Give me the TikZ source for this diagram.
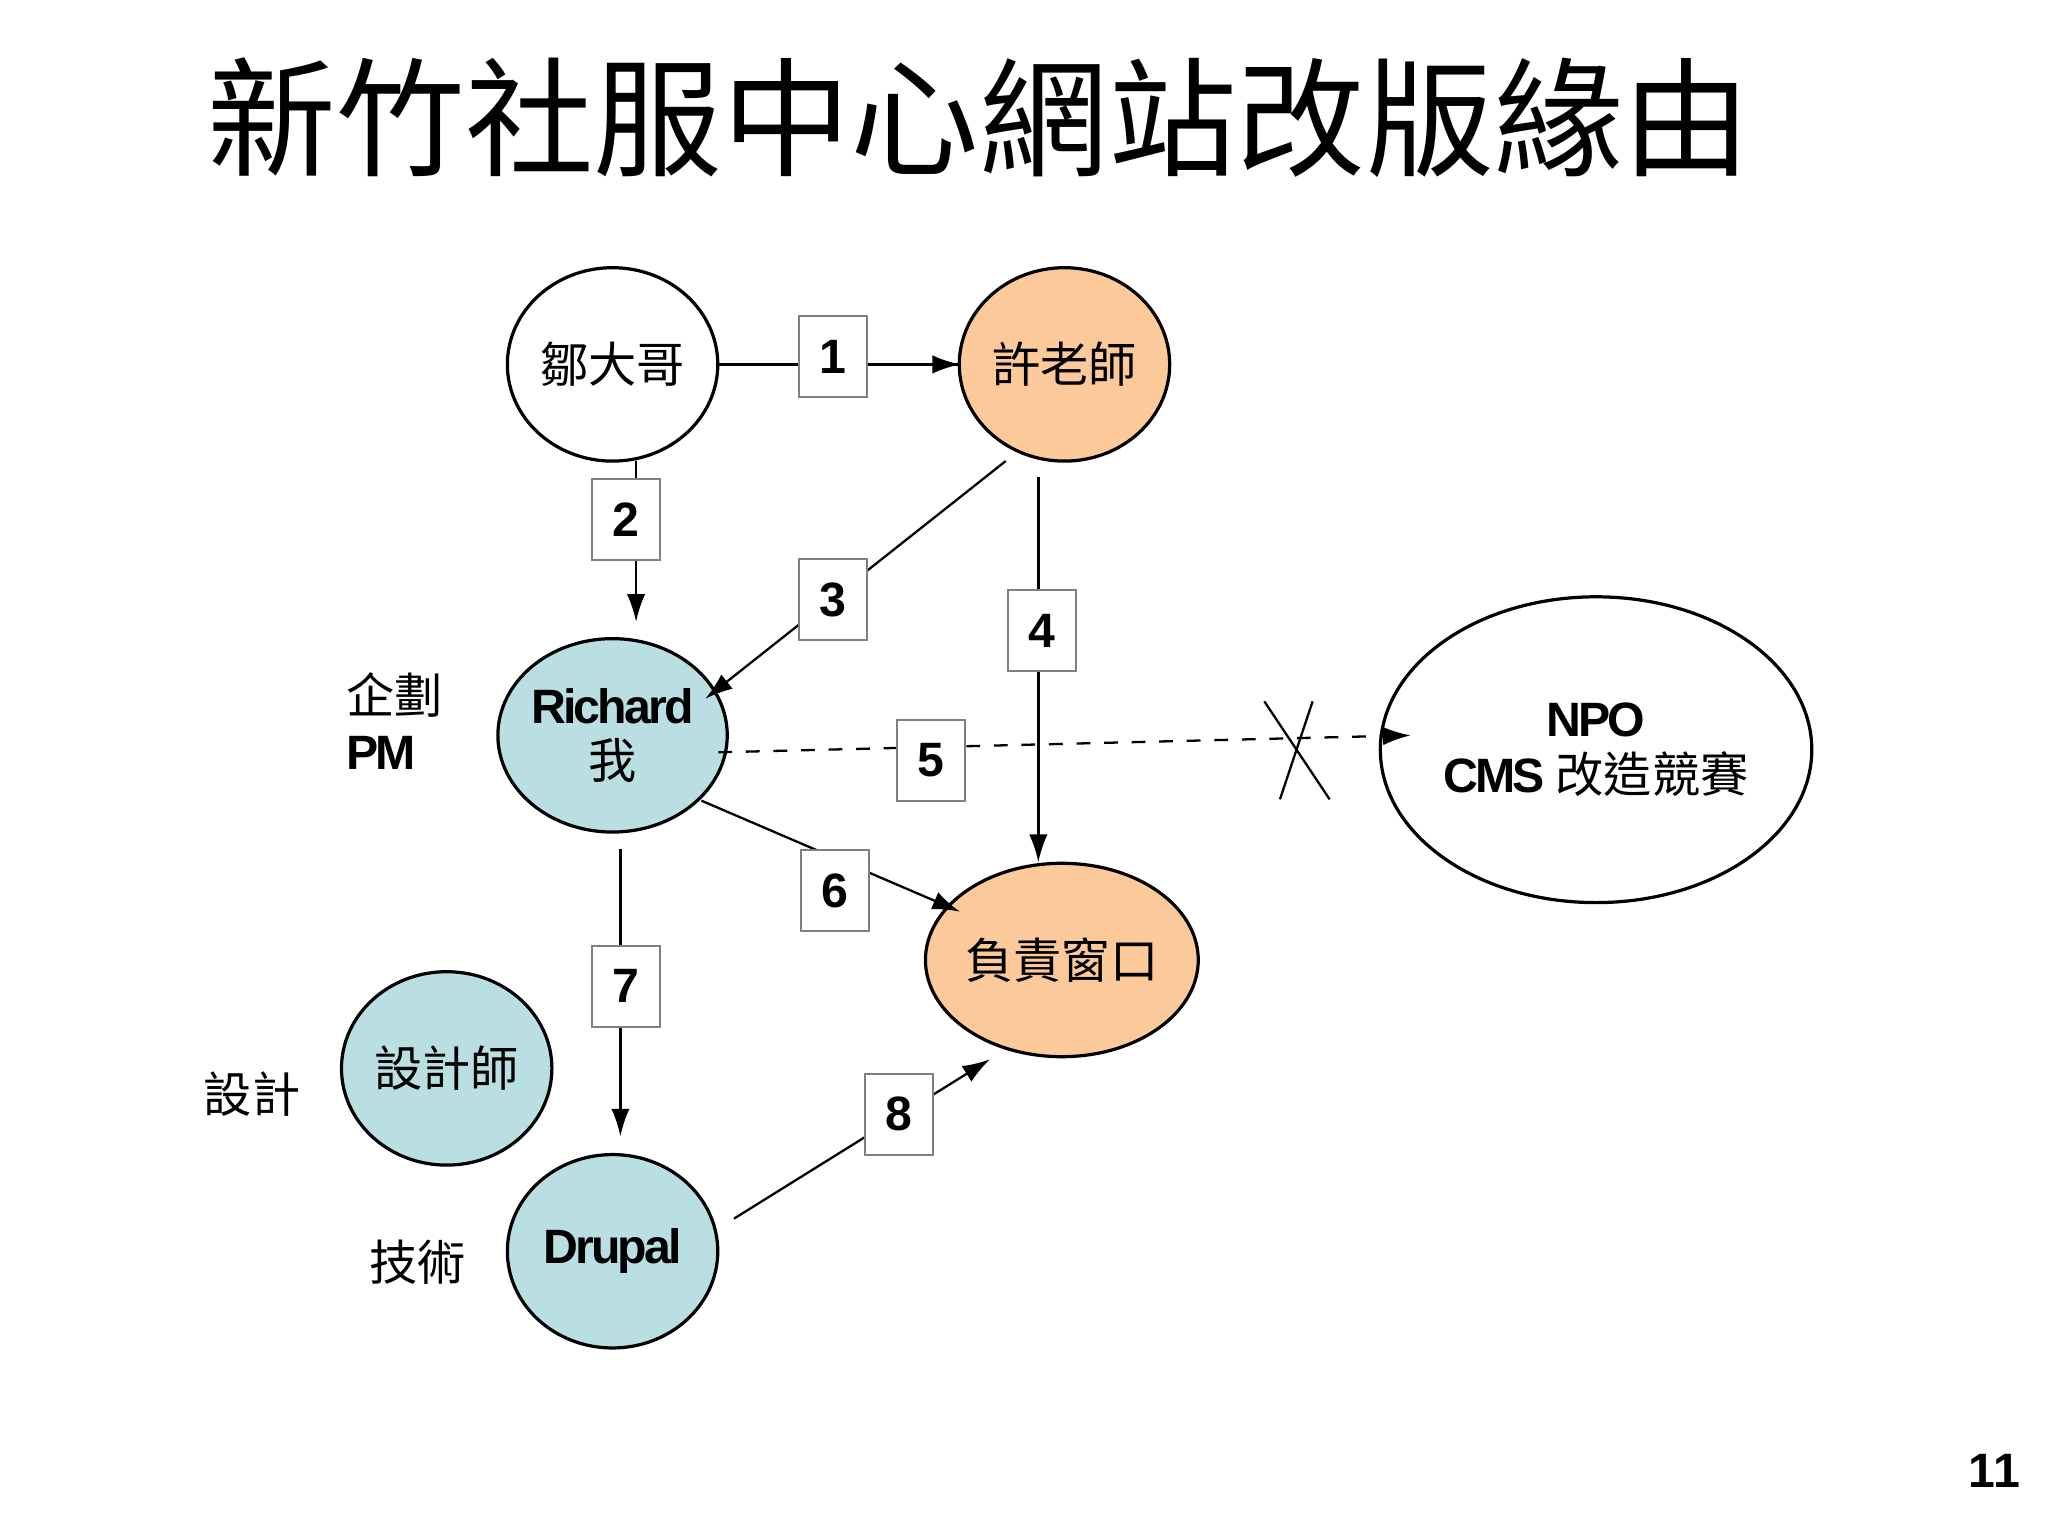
\documentclass[tikz,border=0pt]{standalone}
\usepackage{fontspec}
\setmainfont{Liberation Sans}
\newfontfamily\cjk{Noto Sans CJK TC}
\usetikzlibrary{shapes.geometric,arrows.meta}
\definecolor{org}{RGB}{252,201,155}
\definecolor{blu}{RGB}{186,223,226}
\begin{document}
\begin{tikzpicture}[x=0.01cm,y=-0.01cm,
  el/.style={ellipse,draw,line width=0.7pt,minimum width=161\pgflinewidth,inner sep=0pt,font=\fontsize{10.5pt}{12pt}\selectfont\cjk},
  n/.style={ellipse,draw,line width=0.7pt,minimum width=1.61cm,minimum height=1.48cm,inner sep=0pt,align=center,font=\fontsize{10.5pt}{12pt}\selectfont\cjk},
  num/.style={draw=gray,fill=white,minimum width=0.52cm,minimum height=0.62cm,inner sep=0pt,font=\fontsize{10.5pt}{12pt}\selectfont\bfseries},
  lab/.style={font=\fontsize{10.5pt}{12pt}\selectfont\cjk,align=left},
  ln/.style={line width=0.5pt},
  ar/.style={line width=0.5pt,-{Latex[length=6pt,width=4pt]}}]
\useasboundingbox (0,0) rectangle (1568,1176);
\node[font=\fontsize{28pt}{32pt}\selectfont\cjk] (title) at (750,90) {新竹社服中心網站改版緣由};
\node[n] (A) at (469,279) {鄒大哥};
\node[n,fill=org] (B) at (815,279) {許老師};
\node[n,fill=blu] (R) at (469,563) {{\rmfamily\bfseries\addfontfeature{LetterSpace=-6}Richard}\\我};
\node[n,fill=org] (C) at (813,735) {負責窗口};
\node[n,fill=blu] (D) at (342,818) {設計師};
\node[n,fill=blu] (E) at (469,958) {{\rmfamily\bfseries\addfontfeature{LetterSpace=-6}Drupal}};
\node[n,minimum width=2.48cm,minimum height=2.34cm] (N) at (1222,574) {{\rmfamily\bfseries\addfontfeature{LetterSpace=-6}NPO}\\{\rmfamily\bfseries\addfontfeature{LetterSpace=-6}CMS} 改造競賽};
\node[lab] (pm) at (302,552) {企劃\\{\rmfamily\bfseries\addfontfeature{LetterSpace=-6}PM}};
\node[lab] (sj) at (193,838) {設計};
\node[lab] (js) at (320,966) {技術};
\node[font=\fontsize{10.5pt}{12pt}\selectfont\bfseries] (pg) at (1527,1126) {11};
% connectors
\coordinate (a1) at (550,279); \coordinate (b1) at (735,279);
\coordinate (a2) at (487,353); \coordinate (b2) at (487,476);
\coordinate (a3) at (770,353); \coordinate (b3) at (540,535);
\coordinate (a4) at (795,365); \coordinate (b4) at (795,660);
\coordinate (a5) at (550,576); \coordinate (b5) at (1080,563);
\coordinate (a6) at (537,613); \coordinate (b6) at (735,698);
\coordinate (a7) at (475,650); \coordinate (b7) at (475,870);
\coordinate (a8) at (562,933); \coordinate (b8) at (758,811);
\draw[ln] (a1)--(b1); \draw[ar] (a1)--(b1);
\draw[ar] (a2)--(b2);
\draw[ar] (a3)--(b3);
\draw[ar] (a4)--(b4);
\draw[ar,dashed] (a5)--(b5);
\draw[ar] (a6)--(b6);
\draw[ar] (a7)--(b7);
\draw[ar] (a8)--(b8);
\coordinate (x1) at (968,537); \coordinate (x2) at (1018,612);
\coordinate (x3) at (1005,537); \coordinate (x4) at (980,612);
\draw[ln] (x1)--(x2); \draw[ln] (x3)--(x4);
\node[num] (n1) at (638,273) {1};
\node[num] (n2) at (479,398) {2};
\node[num] (n3) at (638,459) {3};
\node[num] (n4) at (798,483) {4};
\node[num] (n5) at (713,582) {5};
\node[num] (n6) at (639,682) {6};
\node[num] (n7) at (479,755) {7};
\node[num] (n8) at (688,853) {8};
\end{tikzpicture}
\end{document}
